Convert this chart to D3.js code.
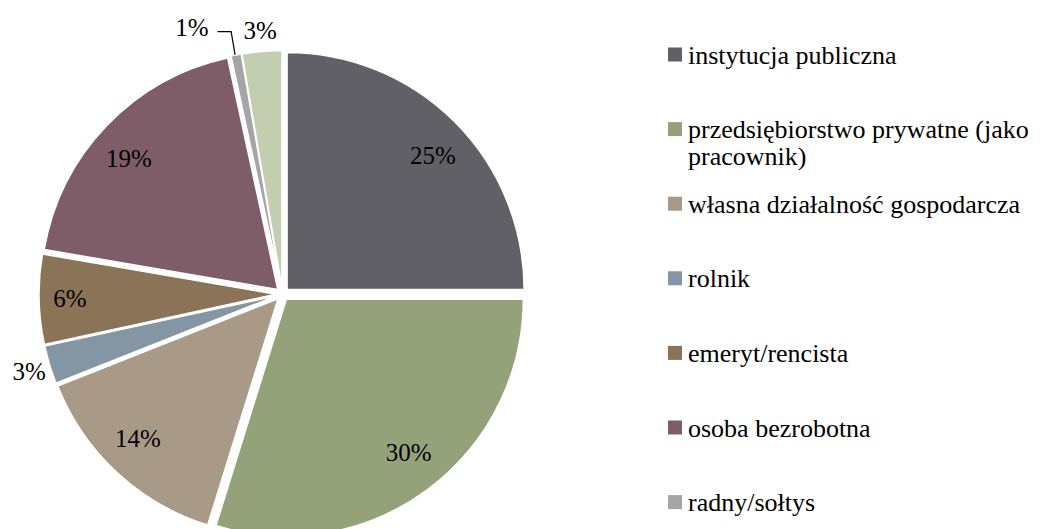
<!DOCTYPE html>
<html>
<head>
<meta charset="utf-8">
<script src="https://cdn.jsdelivr.net/npm/d3@7"></script>
<style>
  html, body { margin: 0; padding: 0; background: #ffffff; }
  svg { display: block; }
</style>
</head>
<body>
<svg id="chart" width="1040" height="529" font-family="'Liberation Serif', 'Times New Roman', Tinos, 'DejaVu Serif', serif"></svg>
<script>
// ---- data ----
const categories = [
  "instytucja publiczna",
  "przedsiębiorstwo prywatne (jako pracownik)",
  "własna działalność gospodarcza",
  "rolnik",
  "emeryt/rencista",
  "osoba bezrobotna",
  "radny/sołtys",
  "inne"
];
const values = [25.0, 29.8, 14.2, 2.6, 6.1, 18.9, 0.7, 2.7];
const colors = ["#616066", "#94a27a", "#a99a87", "#8496a3", "#8b7357", "#7e5c68", "#a5a5a8", "#c3cdaf"];

// ---- layout ----
const W = 1040, H = 529;
const cx = 282.5, cy = 294, R = 237, explode = 6.5;
const svg = d3.select("#chart");

const total = d3.sum(values);
const pieData = d3.pie().sort(null).value(d => d)(values);
const arc = d3.arc().innerRadius(0).outerRadius(R);

const mid = d => (d.startAngle + d.endAngle) / 2;
const offs = d => [Math.sin(mid(d)) * explode, -Math.cos(mid(d)) * explode];

const slices = svg.append("g");
slices.selectAll("path")
  .data(pieData)
  .join("path")
  .attr("transform", d => { const o = offs(d); return `translate(${cx + o[0]},${cy + o[1]})`; })
  .attr("d", arc)
  .attr("fill", (d, i) => colors[i])
  .attr("stroke", "#ffffff")
  .attr("stroke-width", 1.5)
  .attr("stroke-linejoin", "round");

// ---- data labels ----
const labels = svg.append("g").attr("font-size", 25).attr("fill", "#000");
pieData.forEach((d, i) => {
  const pct = d.value / total * 100;
  const o = offs(d);
  const ox = cx + o[0], oy = cy + o[1];
  let a = mid(d), rx, ry;
  let leader = false;
  if (pct >= 5) {
    rx = 0.87 * R; ry = 0.80 * R;
  } else if (pct < 1.5) {
    a = a - 8 * Math.PI / 180;
    rx = ry = 1.16 * R;
    leader = true;
  } else {
    rx = ry = 1.09 * R;
  }
  const x = ox + Math.sin(a) * rx, y = oy - Math.cos(a) * ry;
  const t = labels.append("text")
    .attr("x", x).attr("y", y)
    .attr("text-anchor", "middle")
    .attr("dy", "0.35em")
    .text(Math.round(pct) + "%");
  if (leader) {
    const bw = t.node().getComputedTextLength();
    const ex = ox + Math.sin(mid(d)) * R, ey = oy - Math.cos(mid(d)) * R;
    const sx = x + bw / 2 + 9, ly = y + 4;
    svg.append("path")
      .attr("d", d3.line()([[sx, ly], [ex - 5, ly], [ex - 1, ey]]))
      .attr("fill", "none")
      .attr("stroke", "#000")
      .attr("stroke-width", 1.2);
  }
});

// ---- legend ----
const legend = svg.append("g").attr("font-size", 26).attr("fill", "#000");
const lx = 668, sq = 14, tx = 688, ly0 = 54.5, lstep = 74.6, maxW = 352, lineH = 27;
categories.forEach((c, i) => {
  const yc = ly0 + i * lstep;
  if (yc + 8 > H) return;
  const g = legend.append("g");
  g.append("rect").attr("x", lx).attr("y", yc - sq / 2).attr("width", sq).attr("height", sq).attr("fill", colors[i]);
  const text = g.append("text").attr("x", tx).attr("y", yc + 9);
  const words = c.split(" ");
  let line = [];
  let tspan = text.append("tspan").attr("x", tx).attr("dy", 0);
  words.forEach(w => {
    line.push(w);
    tspan.text(line.join(" "));
    if (tspan.node().getComputedTextLength() > maxW && line.length > 1) {
      line.pop();
      tspan.text(line.join(" "));
      line = [w];
      tspan = text.append("tspan").attr("x", tx).attr("dy", lineH).text(w);
    }
  });
});
</script>
</body>
</html>
